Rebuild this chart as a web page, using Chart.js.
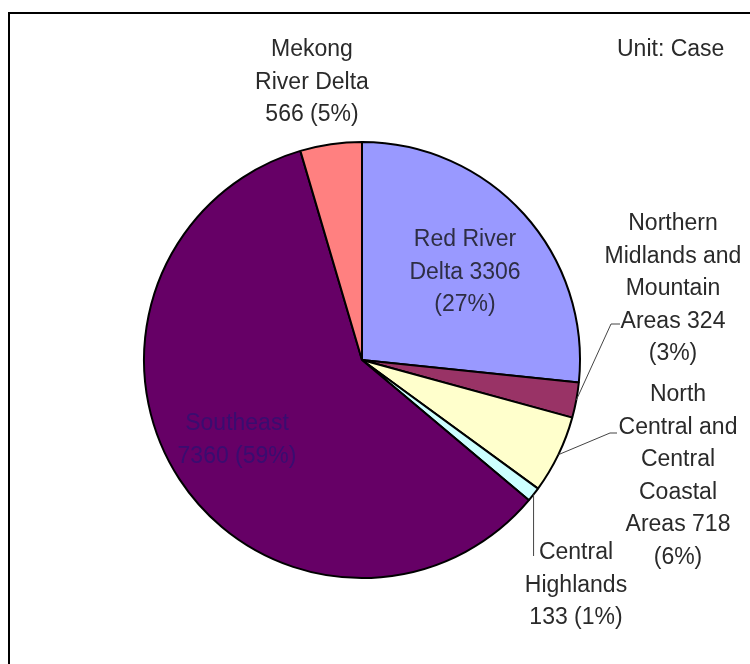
<!DOCTYPE html>
<html>
<head>
<meta charset="utf-8">
<script src="https://cdn.jsdelivr.net/npm/chart.js@4/dist/chart.umd.min.js"></script>
<style>
  html, body { margin: 0; padding: 0; background: #fff; }
  canvas { display: block; }
</style>
</head>
<body>
<canvas id="regionPie" width="750" height="664"></canvas>
<script>
// Cases by region, clockwise from 12 o'clock
const regions = ['Red River Delta', 'Northern Midlands and Mountain Areas', 'North Central and Central Coastal Areas', 'Central Highlands', 'Southeast', 'Mekong River Delta'];
const cases = [3306, 324, 718, 133, 7360, 566];
const shares = ['27%', '3%', '6%', '1%', '59%', '5%'];
const sliceColors = ['#9999ff', '#993366', '#ffffcc', '#ccffff', '#660066', '#ff8080'];

// Label text, one entry per line
const labelLines = [
    ['Red River', 'Delta ' + cases[0], '(' + shares[0] + ')'],
    ['Northern', 'Midlands and', 'Mountain', 'Areas ' + cases[1], '(' + shares[1] + ')'],
    ['North', 'Central and', 'Central', 'Coastal', 'Areas ' + cases[2], '(' + shares[2] + ')'],
    ['Central', 'Highlands', cases[3] + ' (' + shares[3] + ')'],
    ['Southeast', cases[4] + ' (' + shares[4] + ')'],
    ['Mekong', 'River Delta', cases[5] + ' (' + shares[5] + ')']
];

// where each label block sits (centre x, first baseline y) and its leader elbow
const labelPlaces = [
    { x: 465, y: 246, color: '#2e2e44' },
    { x: 673, y: 230, elbow: [611, 324], end: [620, 324] },
    { x: 678, y: 401, elbow: [610, 433], end: [617, 433] },
    { x: 576, y: 559, drop: 556 },
    { x: 237, y: 430, color: '#3a0c70' },
    { x: 312, y: 56 }
];

const LINE_H = 32.5;

const frameAndLabels = {
    id: 'frameAndLabels',
    beforeDraw(chart) {
        const c = chart.ctx;
        c.save();
        c.fillStyle = '#fff';
        c.fillRect(0, 0, chart.width, chart.height);
        c.strokeStyle = '#000';
        c.lineWidth = 2;
        c.beginPath();
        c.moveTo(9, chart.height);
        c.lineTo(9, 13);
        c.lineTo(chart.width, 13);
        c.stroke();
        c.restore();
    },
    afterDraw(chart) {
        const c = chart.ctx;
        const arcs = chart.getDatasetMeta(0).data;
        c.save();
        c.font = '23px "Liberation Sans", Arial, sans-serif';
        c.textAlign = 'center';
        c.textBaseline = 'alphabetic';

        labelLines.forEach((lines, i) => {
            const p = labelPlaces[i];
            const arc = arcs[i];
            const mid = (arc.startAngle + arc.endAngle) / 2;
            const ox = arc.x + Math.cos(mid) * arc.outerRadius;
            const oy = arc.y + Math.sin(mid) * arc.outerRadius;

            c.strokeStyle = '#444';
            c.lineWidth = 1;
            if (p.elbow) {
                c.beginPath();
                c.moveTo(ox, oy);
                c.lineTo(p.elbow[0], p.elbow[1]);
                c.lineTo(p.end[0], p.end[1]);
                c.stroke();
            } else if (p.drop) {
                c.beginPath();
                c.moveTo(ox, oy);
                c.lineTo(ox, p.drop);
                c.stroke();
            }

            c.fillStyle = p.color || '#2a2a2a';
            lines.forEach((t, k) => c.fillText(t, p.x, p.y + k * LINE_H));
        });

        c.textAlign = 'left';
        c.fillStyle = '#2a2a2a';
        c.fillText('Unit: Case', 617, 56);
        c.restore();
    }
};

new Chart(document.getElementById('regionPie'), {
    type: 'pie',
    data: {
        labels: regions,
        datasets: [{
            data: cases,
            backgroundColor: sliceColors,
            borderColor: '#000',
            borderWidth: 2
        }]
    },
    options: {
        responsive: false,
        animation: false,
        layout: { padding: { left: 143, right: 169, top: 141, bottom: 85 } },
        plugins: {
            legend: { display: false },
            tooltip: { enabled: false }
        }
    },
    plugins: [frameAndLabels]
});
</script>
</body>
</html>
